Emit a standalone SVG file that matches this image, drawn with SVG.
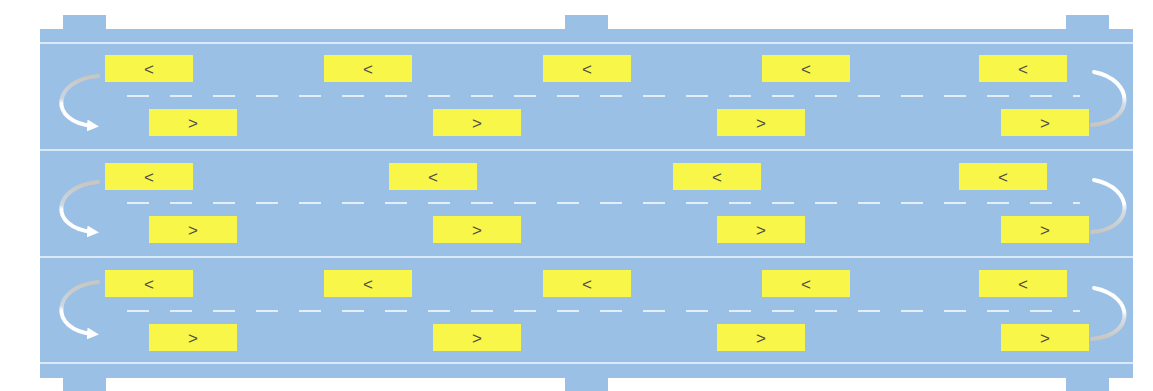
<svg xmlns="http://www.w3.org/2000/svg" width="1153" height="391" viewBox="0 0 1153 391">
<defs>
<style>
.body{fill:#9bc0e6}
.sep{stroke:#dbe9f7;stroke-width:2}
.dash{stroke:#e3eef9;stroke-width:2;stroke-dasharray:22 21;fill:none}
.box{fill:#f9f64a}
.lbl{font-family:"Liberation Sans",Arial,sans-serif;font-size:17px;fill:#4d4d45;text-anchor:middle;dominant-baseline:central}
.arc{fill:none;stroke-width:4;stroke-linecap:round}
</style>
<linearGradient id="gl" x1="0" y1="0" x2="0" y2="1">
<stop offset="0" stop-color="#c9c6c0"/><stop offset="0.45" stop-color="#c9d6e4"/><stop offset="0.55" stop-color="#ffffff"/><stop offset="1" stop-color="#ffffff"/>
</linearGradient>
<linearGradient id="gr" x1="0" y1="0" x2="0" y2="1">
<stop offset="0" stop-color="#ffffff"/><stop offset="0.45" stop-color="#ffffff"/><stop offset="0.6" stop-color="#d3dde8"/><stop offset="1" stop-color="#c9c6c0"/>
</linearGradient>
<marker id="ah" viewBox="0 0 10 10" refX="5" refY="5" markerWidth="3" markerHeight="3" orient="auto">
<path d="M0,0 L10,5 L0,10 Z" fill="#ffffff"/>
</marker>
</defs>
<g id="frame">
<rect class="body" x="40" y="29" width="1093" height="349"/>
<rect class="body" x="63" y="15" width="43" height="15"/>
<rect class="body" x="565" y="15" width="43" height="15"/>
<rect class="body" x="1066" y="15" width="43" height="15"/>
<rect class="body" x="63" y="377" width="43" height="14"/>
<rect class="body" x="565" y="377" width="43" height="14"/>
<rect class="body" x="1066" y="377" width="43" height="14"/>
<line class="sep" x1="40" y1="43" x2="1133" y2="43"/>
<line class="sep" x1="40" y1="150" x2="1133" y2="150"/>
<line class="sep" x1="40" y1="257" x2="1133" y2="257"/>
<line class="sep" x1="40" y1="363" x2="1133" y2="363"/>
</g>
<g id="connectors">
<line class="dash" x1="127" y1="96" x2="1080" y2="96"/>
<line class="dash" x1="127" y1="203" x2="1080" y2="203"/>
<line class="dash" x1="127" y1="311" x2="1080" y2="311"/>
<path class="arc" stroke="url(#gl)" d="M98,76 C52,80 48,122 93,126" marker-end="url(#ah)"/>
<path class="arc" stroke="url(#gl)" d="M98,182 C52,186 48,228 93,232" marker-end="url(#ah)"/>
<path class="arc" stroke="url(#gl)" d="M98,282 C52,286 48,330 93,334" marker-end="url(#ah)"/>
<path class="arc" stroke="url(#gr)" d="M1094,72 C1135,80 1135,122 1092,125"/>
<path class="arc" stroke="url(#gr)" d="M1094,180 C1135,188 1135,229 1092,232"/>
<path class="arc" stroke="url(#gr)" d="M1094,288 C1135,296 1135,336 1092,339"/>
</g>
<g id="row1">
<g id="r1l1"><rect class="box" x="105" y="55" width="88" height="27"/><text class="lbl" x="149" y="69">&lt;</text></g>
<g id="r1l2"><rect class="box" x="324" y="55" width="88" height="27"/><text class="lbl" x="368" y="69">&lt;</text></g>
<g id="r1l3"><rect class="box" x="543" y="55" width="88" height="27"/><text class="lbl" x="587" y="69">&lt;</text></g>
<g id="r1l4"><rect class="box" x="762" y="55" width="88" height="27"/><text class="lbl" x="806" y="69">&lt;</text></g>
<g id="r1l5"><rect class="box" x="979" y="55" width="88" height="27"/><text class="lbl" x="1023" y="69">&lt;</text></g>
<g id="r1r1"><rect class="box" x="149" y="109" width="88" height="27"/><text class="lbl" x="193" y="123">&gt;</text></g>
<g id="r1r2"><rect class="box" x="433" y="109" width="88" height="27"/><text class="lbl" x="477" y="123">&gt;</text></g>
<g id="r1r3"><rect class="box" x="717" y="109" width="88" height="27"/><text class="lbl" x="761" y="123">&gt;</text></g>
<g id="r1r4"><rect class="box" x="1001" y="109" width="88" height="27"/><text class="lbl" x="1045" y="123">&gt;</text></g>
</g>
<g id="row2">
<g id="r2l1"><rect class="box" x="105" y="163" width="88" height="27"/><text class="lbl" x="149" y="177">&lt;</text></g>
<g id="r2l2"><rect class="box" x="389" y="163" width="88" height="27"/><text class="lbl" x="433" y="177">&lt;</text></g>
<g id="r2l3"><rect class="box" x="673" y="163" width="88" height="27"/><text class="lbl" x="717" y="177">&lt;</text></g>
<g id="r2l4"><rect class="box" x="959" y="163" width="88" height="27"/><text class="lbl" x="1003" y="177">&lt;</text></g>
<g id="r2r1"><rect class="box" x="149" y="216" width="88" height="27"/><text class="lbl" x="193" y="230">&gt;</text></g>
<g id="r2r2"><rect class="box" x="433" y="216" width="88" height="27"/><text class="lbl" x="477" y="230">&gt;</text></g>
<g id="r2r3"><rect class="box" x="717" y="216" width="88" height="27"/><text class="lbl" x="761" y="230">&gt;</text></g>
<g id="r2r4"><rect class="box" x="1001" y="216" width="88" height="27"/><text class="lbl" x="1045" y="230">&gt;</text></g>
</g>
<g id="row3">
<g id="r3l1"><rect class="box" x="105" y="270" width="88" height="27"/><text class="lbl" x="149" y="284">&lt;</text></g>
<g id="r3l2"><rect class="box" x="324" y="270" width="88" height="27"/><text class="lbl" x="368" y="284">&lt;</text></g>
<g id="r3l3"><rect class="box" x="543" y="270" width="88" height="27"/><text class="lbl" x="587" y="284">&lt;</text></g>
<g id="r3l4"><rect class="box" x="762" y="270" width="88" height="27"/><text class="lbl" x="806" y="284">&lt;</text></g>
<g id="r3l5"><rect class="box" x="979" y="270" width="88" height="27"/><text class="lbl" x="1023" y="284">&lt;</text></g>
<g id="r3r1"><rect class="box" x="149" y="324" width="88" height="27"/><text class="lbl" x="193" y="338">&gt;</text></g>
<g id="r3r2"><rect class="box" x="433" y="324" width="88" height="27"/><text class="lbl" x="477" y="338">&gt;</text></g>
<g id="r3r3"><rect class="box" x="717" y="324" width="88" height="27"/><text class="lbl" x="761" y="338">&gt;</text></g>
<g id="r3r4"><rect class="box" x="1001" y="324" width="88" height="27"/><text class="lbl" x="1045" y="338">&gt;</text></g>
</g>
</svg>
